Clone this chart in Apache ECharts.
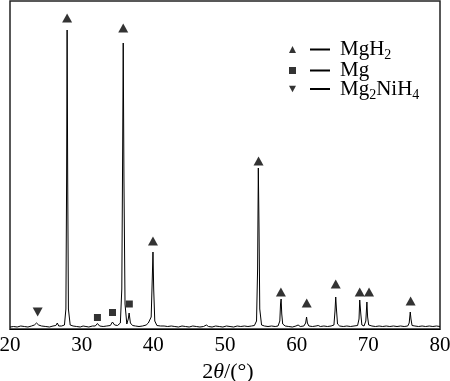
<!DOCTYPE html>
<html><head><meta charset="utf-8">
<script src="https://cdn.jsdelivr.net/npm/echarts@6/dist/echarts.min.js"></script>
<style>html,body{margin:0;padding:0;background:#fff}#c{width:450px;height:381px}</style>
</head><body><div id="c"></div>
<script>
// XRD pattern: 2θ (deg) and intensity (arbitrary units)
const twoTheta = [20.0,20.5,21.0,21.5,22.0,22.5,23.0,23.4,23.7,24.0,24.4,25.0,25.5,26.0,26.4,26.6,26.8,27.2,27.6,27.8,27.9,27.97,28.05,28.15,28.4,28.8,29.3,29.8,30.2,30.6,31.0,31.5,31.9,32.2,32.5,33.0,33.5,34.0,34.3,34.6,35.0,35.4,35.6,35.72,35.8,35.9,36.05,36.3,36.5,36.62,36.8,37.1,37.5,38.0,38.5,39.0,39.3,39.5,39.7,39.85,39.95,40.05,40.2,40.5,41.0,41.2,41.5,42.0,42.5,43.0,43.5,44.0,44.5,45.0,45.5,46.0,46.5,47.0,47.4,47.7,48.2,48.7,49.2,49.7,50.2,50.7,51.2,51.7,52.2,52.7,53.2,53.7,54.1,54.4,54.55,54.65,54.75,54.85,55.1,55.5,56.0,56.5,57.0,57.4,57.65,57.75,57.83,57.92,58.05,58.4,58.9,59.4,59.9,60.2,60.5,61.0,61.25,61.38,61.5,61.7,62.2,62.7,63.0,63.3,63.8,64.3,64.8,65.2,65.35,65.45,65.55,65.7,66.0,66.5,67.0,67.5,68.0,68.5,68.7,68.8,68.95,69.1,69.4,69.65,69.8,69.9,70.05,70.5,71.0,71.5,72.0,72.5,73.0,73.5,74.0,74.5,75.0,75.5,75.7,75.85,75.95,76.1,76.5,77.0,77.5,78.0,78.5,79.0,79.5,80.0];
const intensity = [2,2.5,2,3,2.5,2,3,4,6,4,3,2.5,2,3,3.5,6,3,3,4,20,150,299,150,20,4,3,2.5,2,3,2.5,2,3,3,5.5,3,2.5,3,3.5,7,4,3.5,6,40,180,286,150,25,5,10,16,6,3.5,3,2.5,3,4,6,5,12,50,77,40,8,3.5,3,4.5,3,2.5,3,2.5,2,3,2.5,2,3,2.5,2,2.5,4,2.5,2,3,2.5,2,3,2.5,2,3,2.5,3,2.5,3,3.5,8,60,161,100,20,4,3,2.5,3,2.5,3,8,25,30,15,5,3,2.5,2,3,4,2.5,3,6,12,6,3,2.5,3,3.5,2.5,3,2.5,3,4,18,32,20,5,3,2.5,3,2.5,3,3.5,10,29,15,4,3,8,27,12,4,3,2.5,3,2.5,3,2.5,3,2.5,3,2.5,3,6,17,10,3.5,3,2.5,3,2.5,3,2.5,3,2.5];

// Phase markers [2θ, height]
const mgh2Marks = [[27.97,311],[35.8,301],[39.95,88],[54.68,168],[57.8,37],[61.4,26],[65.45,45],[68.8,37],[70.1,37],[75.9,28]];
const mgMarks = [[32.2,11.5],[34.3,16.5],[36.65,25]];
const mg2nih4Marks = [[23.86,17]];

const xTicks = [20,30,40,50,60,70,80];

const downTri = 'path://M0,0 L10,0 L5,9 Z';
const serif = '"Liberation Serif","Times New Roman",serif';

const chart = echarts.init(document.getElementById('c'));
const richBase = {
  g: {width: 9, height: 20, lineHeight: 20},
  d: {width: 20, height: 2, backgroundColor: '#000', verticalAlign: 'middle'},
  g2: {width: 10, height: 20, lineHeight: 20},
  t: {fontFamily: serif, fontSize: 21, lineHeight: 20, color: '#000'},
  s: {fontFamily: serif, fontSize: 14, height: 8, lineHeight: 8, color: '#000', verticalAlign: 'bottom'}
};
const legendText = {
  'MgH2': '{g| }{d| }{g2| }{t|MgH}{s|2}',
  'Mg': '{g| }{d| }{g2| }{t|Mg}',
  'Mg2NiH4': '{g| }{d| }{g2| }{t|Mg}{s|2}{t|NiH}{s|4}'
};
chart.setOption({
  animation: false,
  backgroundColor: '#fff',
  grid: {left: 10, right: 10, top: 1, bottom: 52, show: true, borderColor: '#222', borderWidth: 1.5, outerBoundsMode: 'none', containLabel: false},
  legend: {
    orient: 'vertical', left: 284, top: 34, itemWidth: 7, itemHeight: 7, itemGap: -2.5, itemStyle: {color: '#000'},
    data: [
      {name: 'MgH2', icon: 'triangle'},
      {name: 'Mg', icon: 'rect'},
      {name: 'Mg2NiH4', icon: downTri}
    ],
    formatter: n => legendText[n],
    textStyle: {rich: richBase, fontFamily: serif, fontSize: 21, lineHeight: 20}
  },
  xAxis: {
    type: 'value', min: 20, max: 80, interval: 10,
    axisLine: {show: true, lineStyle: {color: '#000', width: 1}},
    axisTick: {show: false},
    splitLine: {show: false},
    axisLabel: {color: '#000', fontFamily: serif, fontSize: 21, margin: 6, formatter: v => xTicks.includes(v) ? String(v) : ''},
    name: '{n|2}{i|θ}{n|/(°)}', nameLocation: 'middle', nameGap: 27,
    nameTextStyle: {padding: [0, 0, 0, 6], rich: {
      n: {fontFamily: serif, fontSize: 22, color: '#000'},
      i: {fontFamily: serif, fontSize: 22, fontStyle: 'italic', color: '#000'}
    }}
  },
  yAxis: {
    type: 'value', min: 0, max: 328,
    axisLine: {show: false}, axisTick: {show: false}, axisLabel: {show: false}, splitLine: {show: false}
  },
  series: [
    {type: 'line', name: 'pattern', data: twoTheta.map((x, i) => [x, intensity[i]]), showSymbol: false, symbol: 'none',
     lineStyle: {color: '#000', width: 1}, silent: true},
    {type: 'scatter', name: 'MgH2', data: mgh2Marks, symbol: 'triangle', symbolSize: [10, 9], itemStyle: {color: '#000'}},
    {type: 'scatter', name: 'Mg', data: mgMarks, symbol: 'rect', symbolSize: [7, 7], itemStyle: {color: '#000'}},
    {type: 'scatter', name: 'Mg2NiH4', data: mg2nih4Marks, symbol: downTri, symbolSize: [10, 9], itemStyle: {color: '#000'}}
  ]
});
</script></body></html>
